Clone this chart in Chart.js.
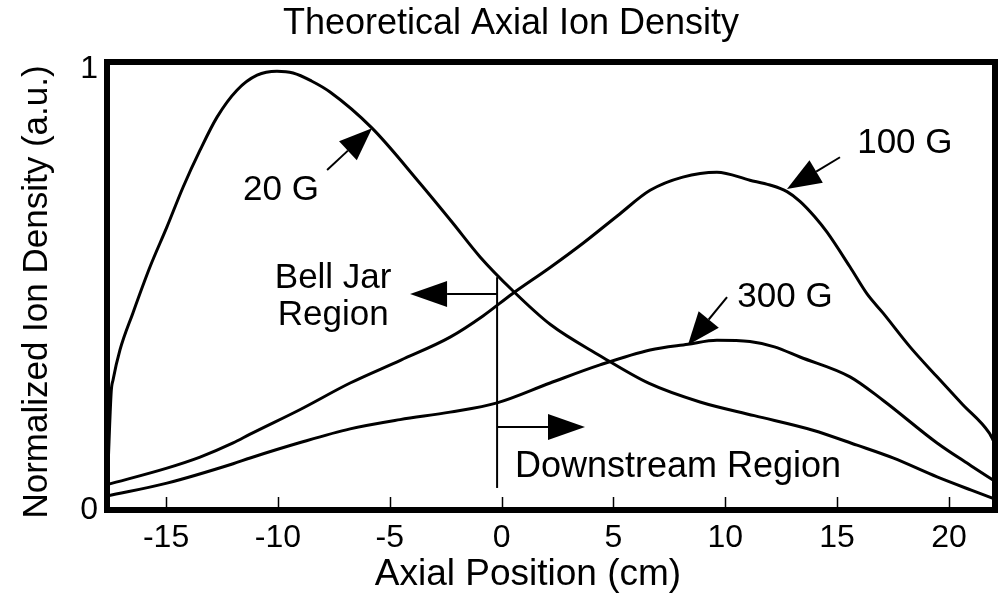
<!DOCTYPE html>
<html>
<head>
<meta charset="utf-8">
<script src="https://cdn.jsdelivr.net/npm/chart.js@4.4.1/dist/chart.umd.min.js"></script>
<style>
  html, body { margin: 0; padding: 0; background: #fff; }
  #wrap { width: 1001px; height: 599px; }
</style>
</head>
<body>
<div id="wrap"><canvas id="chart" width="1001" height="599"></canvas></div>
<script>
// axial position (cm) / normalized ion density
const pos20G = [-17.6, -17.45, -17.37, -17.06, -16.48, -15.72, -14.96, -14.24, -13.48, -12.72, -11.83, -10.93, -10.04, -9.32, -8.5, -7.67, -5.79, -3.65, -2.2, -0.96, 0.47, 2.2, 4.4, 6.6, 8.87, 11.3, 13.92, 15.89, 17.5, 19.47, 21.0, 22.06];
const dens20G = [0.09, 0.27, 0.295, 0.363, 0.447, 0.551, 0.642, 0.732, 0.816, 0.891, 0.952, 0.986, 0.995, 0.991, 0.973, 0.948, 0.866, 0.741, 0.652, 0.574, 0.499, 0.42, 0.35, 0.287, 0.245, 0.214, 0.181, 0.147, 0.118, 0.075, 0.045, 0.025];

const pos100G = [-17.6, -14.96, -13.48, -12.0, -11.24, -9.0, -6.77, -4.5, -2.3, -0.83, 0.47, 2.17, 3.64, 5.2, 6.64, 8.1, 9.63, 11.1, 12.0, 12.76, 13.34, 14.0, 14.55, 15.58, 16.34, 17.05, 18.26, 19.47, 20.6, 21.8, 22.06];
const dens100G = [0.058, 0.095, 0.12, 0.152, 0.172, 0.228, 0.288, 0.34, 0.392, 0.44, 0.49, 0.55, 0.605, 0.668, 0.725, 0.755, 0.766, 0.748, 0.737, 0.722, 0.7, 0.665, 0.63, 0.551, 0.49, 0.447, 0.37, 0.302, 0.24, 0.175, 0.15];

const pos300G = [-17.6, -14.96, -12.0, -11.24, -9.0, -6.77, -4.54, -2.3, -0.2, 2.17, 4.4, 6.64, 8.33, 9.63, 11.1, 12.2, 13.34, 15.58, 17.05, 19.47, 21.0, 22.06];
const dens300G = [0.032, 0.061, 0.105, 0.118, 0.153, 0.184, 0.205, 0.222, 0.243, 0.288, 0.329, 0.363, 0.376, 0.385, 0.382, 0.37, 0.347, 0.302, 0.249, 0.152, 0.1, 0.065];

const xTicks = [-15, -10, -5, 0, 5, 10, 15, 20];
const yTicks = [0, 1];

const FONT = "'Liberation Sans', Arial, Helvetica, sans-serif";

function toPoints(xs, ys) {
  return xs.map((x, i) => ({ x: x, y: ys[i] }));
}

function curve(label, xs, ys) {
  return {
    label: label,
    data: toPoints(xs, ys),
    borderColor: '#000',
    borderWidth: 3,
    pointRadius: 0,
    cubicInterpolationMode: 'monotone',
    fill: false
  };
}

function arrow(ctx, x0, y0, x1, y1, head, half) {
  const a = Math.atan2(y1 - y0, x1 - x0);
  const bx = x1 - head * Math.cos(a), by = y1 - head * Math.sin(a);
  ctx.beginPath();
  ctx.moveTo(x0, y0);
  ctx.lineTo(bx, by);
  ctx.stroke();
  ctx.beginPath();
  ctx.moveTo(x1, y1);
  ctx.lineTo(bx + half * Math.sin(a), by - half * Math.cos(a));
  ctx.lineTo(bx - half * Math.sin(a), by + half * Math.cos(a));
  ctx.closePath();
  ctx.fill();
}

// heavy frame, inward ticks, titles and the hand-placed labels/arrows
const framePlugin = {
  id: 'frame',
  afterDraw(chart) {
    const { ctx, chartArea: a } = chart;
    const X = (v) => chart.scales.x.getPixelForValue(v);
    const Y = (v) => chart.scales.y.getPixelForValue(v);
    ctx.save();
    ctx.strokeStyle = '#000';
    ctx.fillStyle = '#000';

    ctx.lineWidth = 1.5;
    xTicks.forEach((v) => {
      const px = Math.round(X(v)) + 0.5;
      ctx.beginPath();
      ctx.moveTo(px, a.bottom - 3);
      ctx.lineTo(px, a.bottom - 13);
      ctx.stroke();
    });

    ctx.lineWidth = 6;
    ctx.strokeRect(a.left, a.top, a.right - a.left, a.bottom - a.top);

    // region divider
    ctx.lineWidth = 2;
    ctx.beginPath();
    ctx.moveTo(X(-0.2), Y(0.05));
    ctx.lineTo(X(-0.2), Y(0.528));
    ctx.stroke();
    arrow(ctx, X(-0.2), Y(0.49), X(-4.09), Y(0.49), 37, 13);
    arrow(ctx, X(-0.2), Y(0.188), X(3.73), Y(0.188), 37, 13);

    // curve labels
    arrow(ctx, X(-7.8), Y(0.771), X(-5.79), Y(0.866), 33, 13);
    arrow(ctx, X(15.13), Y(0.8), X(12.76), Y(0.728), 34, 13);
    arrow(ctx, X(10.08), Y(0.483), X(8.33), Y(0.374), 33, 13);

    ctx.textAlign = 'center';
    ctx.textBaseline = 'alphabetic';
    ctx.font = '35px ' + FONT;
    ctx.fillText('20 G', X(-9.86), Y(0.703));
    ctx.fillText('100 G', X(18.03), Y(0.81));
    ctx.fillText('300 G', X(12.67), Y(0.46));
    ctx.fillText('Bell Jar', X(-7.53), Y(0.503));
    ctx.fillText('Region', X(-7.53), Y(0.42));
    ctx.font = '36px ' + FONT;
    ctx.fillText('Downstream Region', X(7.89), Y(0.075));

    // titles (slightly off-centre in the original)
    ctx.font = '36px ' + FONT;
    ctx.fillText('Theoretical Axial Ion Density', 511, 34);
    ctx.font = '37px ' + FONT;
    ctx.fillText('Axial Position (cm)', 528, 585);
    ctx.translate(37, 292);
    ctx.rotate(-Math.PI / 2);
    ctx.textBaseline = 'middle';
    ctx.font = '35px ' + FONT;
    ctx.fillText('Normalized Ion Density (a.u.)', 0, 0);
    ctx.restore();
  }
};

new Chart(document.getElementById('chart'), {
  type: 'line',
  data: {
    datasets: [
      curve('20 G', pos20G, dens20G),
      curve('100 G', pos100G, dens100G),
      curve('300 G', pos300G, dens300G)
    ]
  },
  options: {
    responsive: false,
    animation: false,
    devicePixelRatio: 1,
    layout: { padding: { left: 0, right: 6, top: 62, bottom: 0 } },
    plugins: {
      legend: { display: false },
      tooltip: { enabled: false },
      title: { display: false }
    },
    scales: {
      x: {
        type: 'linear',
        min: -17.64,
        max: 22.06,
        grid: { display: false, drawTicks: false },
        border: { display: false },
        afterBuildTicks: (s) => { s.ticks = xTicks.map((v) => ({ value: v })); },
        afterFit: (s) => { s.height = 89; },
        ticks: {
          color: '#000',
          padding: 9,
          maxRotation: 0,
          font: { family: FONT, size: 32 }
        }
      },
      y: {
        type: 'linear',
        min: 0,
        max: 1.016,
        grid: { display: false, drawTicks: false },
        border: { display: false },
        afterBuildTicks: (s) => { s.ticks = yTicks.map((v) => ({ value: v })); },
        afterFit: (s) => { s.width = 107; },
        ticks: {
          color: '#000',
          padding: 9,
          font: { family: FONT, size: 32 }
        }
      }
    }
  },
  plugins: [framePlugin]
});
</script>
</body>
</html>
